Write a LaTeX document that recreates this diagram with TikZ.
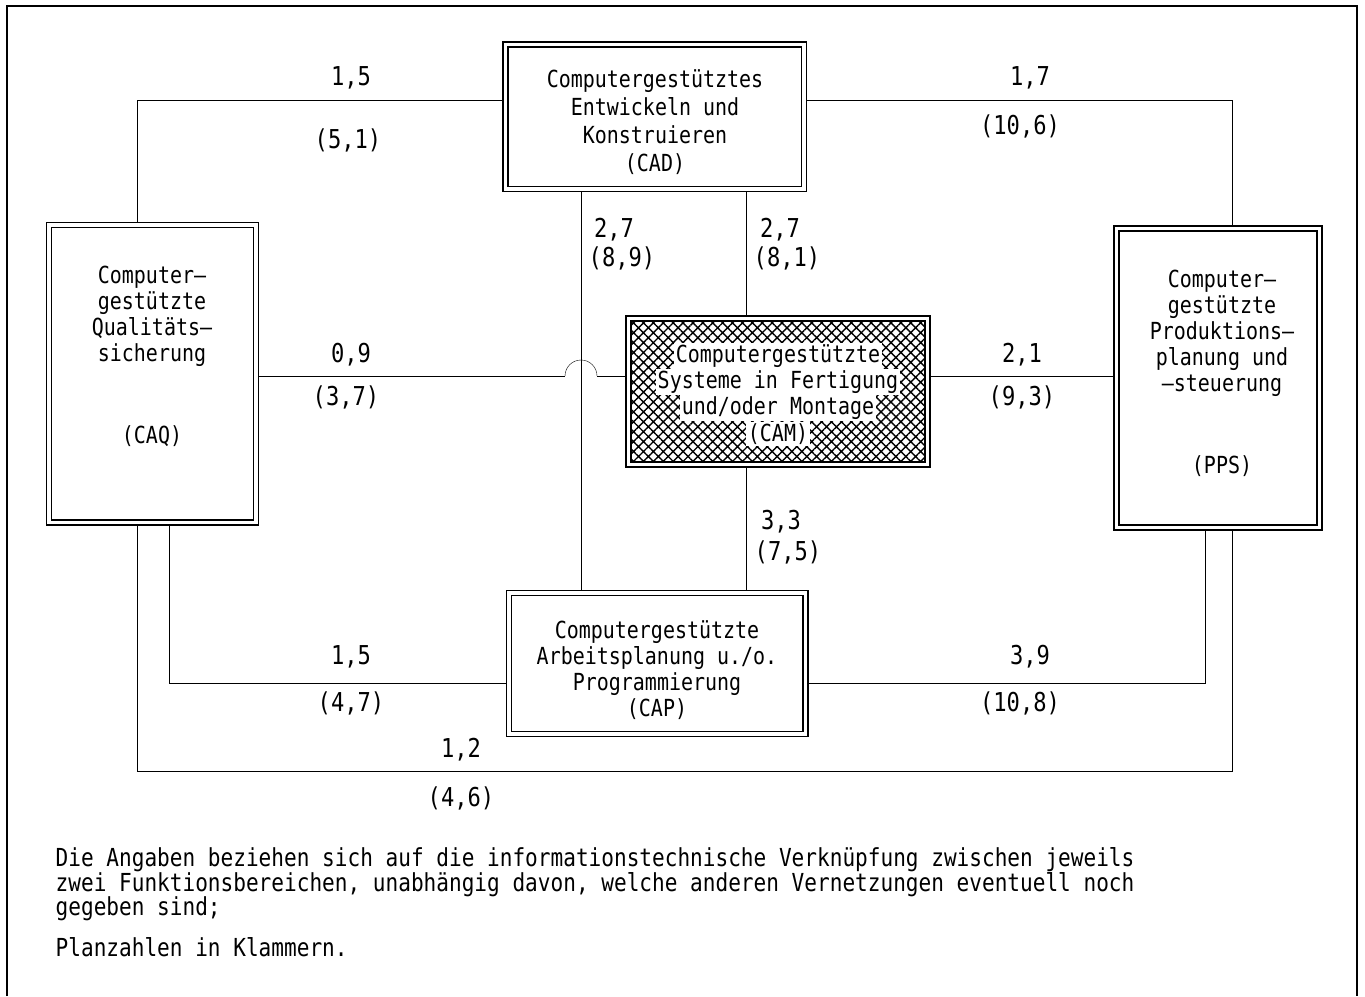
\documentclass[tikz,border=0pt]{standalone}
\usepackage{fontspec}
\setmonofont[FakeStretch=0.85]{DejaVu Sans Mono}
\usetikzlibrary{patterns.meta,backgrounds}
\begin{document}
\begin{tikzpicture}[x=1pt,y=-1pt,line width=1.4pt,
  dbox/.style={draw, double, double distance=3.5pt, line width=1.3pt, inner sep=0pt},
  txt/.style={font=\fontsize{23.5}{27}\selectfont\ttfamily, align=center, inner sep=0pt},
  lab/.style={font=\fontsize{26}{30}\selectfont\ttfamily, inner sep=0pt},
  note/.style={font=\fontsize{24.8}{25}\selectfont\ttfamily, anchor=base west, inner sep=0pt},
  camtxt/.style={txt, fill=white, inner sep=2pt}]
\useasboundingbox (0,0) rectangle (1365,996);
% frame
\draw[line width=2.5pt] (7,996) -- (7,6) -- (1357,6) -- (1357,996);

% boxes
\node[dbox, minimum width=298.5pt, minimum height=144.5pt] (cad) at (654.75,116.75) {};
\node[dbox, minimum width=207pt, minimum height=297.5pt] (caq) at (152.5,373.75) {};
\node[dbox, minimum width=203pt, minimum height=299pt] (pps) at (1218,378) {};
\node[dbox, minimum width=296.5pt, minimum height=141pt] (cap) at (657.25,663.5) {};
\node[dbox, double distance=3.8pt, minimum width=299pt, minimum height=146pt] (cam) at (778,391.5) {};
\path[pattern={Hatch[angle=45,distance=7pt,line width=1.4pt]}]
  ([shift={(3.2,3.2)}]cam.north west) rectangle ([shift={(-3.2,-3.2)}]cam.south east);

% box texts
\node[txt, font=\fontsize{23.5}{28}\selectfont\ttfamily] (cadt) at (655,122) {Computergestütztes\\Entwickeln und\\Konstruieren\\(CAD)};
\node[txt, font=\fontsize{23.5}{26}\selectfont\ttfamily] (capt) at (657,670) {Computergestützte\\Arbeitsplanung u./o.\\Programmierung\\(CAP)};
\node[txt, font=\fontsize{23.5}{26}\selectfont\ttfamily] (caqt) at (152,316) {Computer–\\gestützte\\Qualitäts–\\sicherung};
\node[txt] (caqa) at (152,436) {(CAQ)};
\node[txt, font=\fontsize{23.5}{26}\selectfont\ttfamily] (ppst) at (1222,333) {Computer–\\gestützte\\Produktions–\\planung und\\–steuerung};
\node[txt] (ppsa) at (1222,466) {(PPS)};
\node[camtxt] (cam1) at (778,356) {Computergestützte};
\node[camtxt] (cam2) at (778,382) {Systeme in Fertigung};
\node[camtxt] (cam3) at (778,408) {und/oder Montage};
\node[camtxt] (cam4) at (778,434) {(CAM)};

% level coordinates
\coordinate (ytop) at (0,100);
\coordinate (jl) at (565,376);
\coordinate (jr) at (597,376);
\coordinate (ycap) at (0,683);
\coordinate (ybot) at (0,771);
\coordinate (xa) at (137,0);
\coordinate (xb) at (169,0);
\coordinate (xc) at (581,0);
\coordinate (xd) at (746,0);
\coordinate (xe) at (1232,0);
\coordinate (xf) at (1205,0);

% connectors
\begin{scope}[on background layer]
\draw (caq.north -| xa) |- (cad.west |- ytop);
\draw (cad.east |- ytop) -| (pps.north -| xe);
\draw (cad.south -| xc) -- (cap.north -| xc);
\draw (cad.south -| xd) -- (cam.north -| xd);
\draw (caq.east |- jl) -- (jl);
\draw (jl) arc[start angle=180,end angle=360,radius=16];
\draw (jr) -- (cam.west |- jr);
\draw (cam.east |- jl) -- (pps.west |- jl);
\draw (cam.south -| xd) -- (cap.north -| xd);
\draw (caq.south -| xb) |- (cap.west |- ycap);
\draw (cap.east |- ycap) -| (pps.south -| xf);
\draw (caq.south -| xa) |- (ybot -| xe) -- (pps.south -| xe);
\end{scope}

% labels
\node[lab] (l1a) at (351,78) {1,5};
\node[lab] (l1b) at (348,140) {(5,1)};
\node[lab] (l2a) at (1030,78) {1,7};
\node[lab] (l2b) at (1020,126) {(10,6)};
\node[lab] (l3a) at (614,230) {2,7};
\node[lab] (l3b) at (622,258) {(8,9)};
\node[lab] (l4a) at (780,230) {2,7};
\node[lab] (l4b) at (787,258) {(8,1)};
\node[lab] (l5a) at (351,355) {0,9};
\node[lab] (l5b) at (346,397) {(3,7)};
\node[lab] (l6a) at (1022,355) {2,1};
\node[lab] (l6b) at (1022,397) {(9,3)};
\node[lab] (l7a) at (781,522) {3,3};
\node[lab] (l7b) at (788,552) {(7,5)};
\node[lab] (l8a) at (351,657) {1,5};
\node[lab] (l8b) at (351,703) {(4,7)};
\node[lab] (l9a) at (1030,657) {3,9};
\node[lab] (l9b) at (1020,703) {(10,8)};
\node[lab] (l10a) at (461,750) {1,2};
\node[lab] (l10b) at (461,798) {(4,6)};

% footnote
\node[note] (n1) at (55,866) {Die Angaben beziehen sich auf die informationstechnische Verknüpfung zwischen jeweils};
\node[note] (n2) at (55,891) {zwei Funktionsbereichen, unabhängig davon, welche anderen Vernetzungen eventuell noch};
\node[note] (n3) at (55,915) {gegeben sind;};
\node[note] (n4) at (55,956) {Planzahlen in Klammern.};
\end{tikzpicture}
\end{document}
